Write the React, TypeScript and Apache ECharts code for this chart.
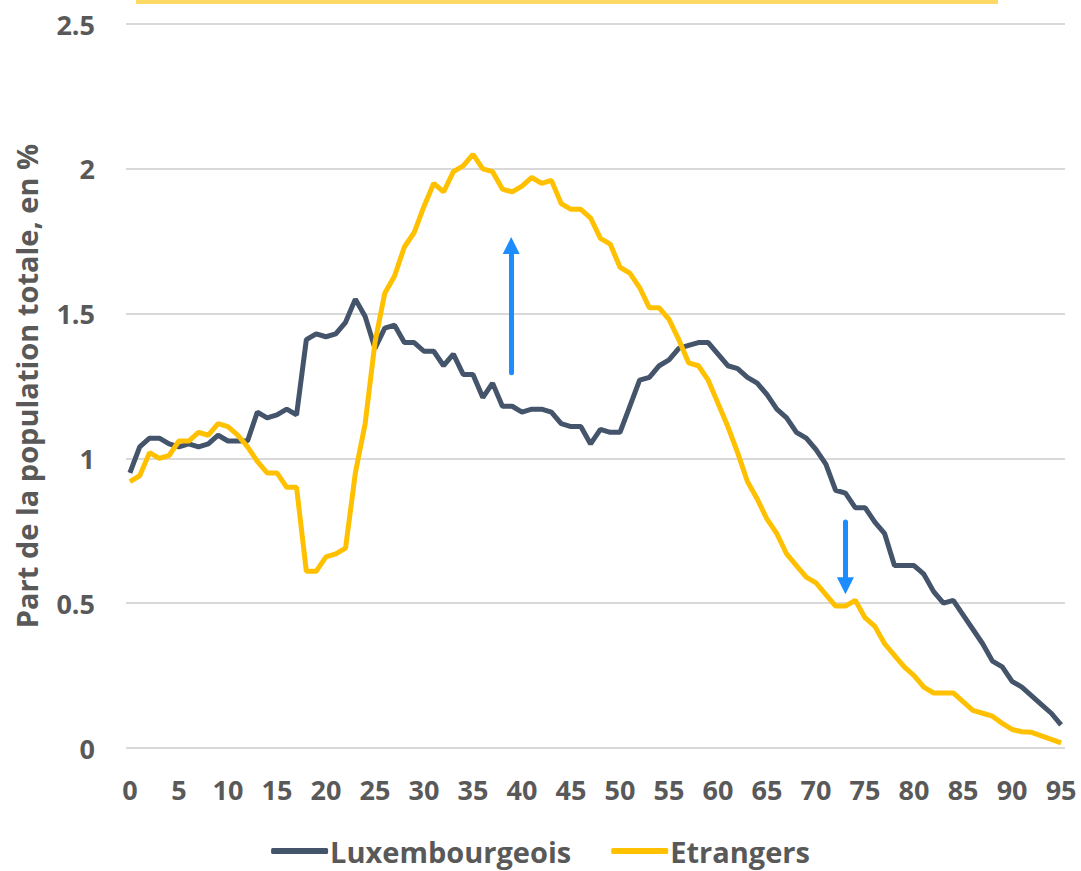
import React, { useEffect, useRef } from "react";
import * as echarts from "echarts";

const ages: number[] = Array.from({ length: 96 }, (_, i) => i);
const xTickLabels: number[] = [0, 5, 10, 15, 20, 25, 30, 35, 40, 45, 50, 55, 60, 65, 70, 75, 80, 85, 90, 95];

const luxembourgeois: number[] = [
  0.95, 1.04, 1.07, 1.07, 1.05, 1.04, 1.05, 1.04, 1.05, 1.08,
  1.06, 1.06, 1.06, 1.16, 1.14, 1.15, 1.17, 1.15, 1.41, 1.43,
  1.42, 1.43, 1.47, 1.55, 1.49, 1.38, 1.45, 1.46, 1.40, 1.40,
  1.37, 1.37, 1.32, 1.36, 1.29, 1.29, 1.21, 1.26, 1.18, 1.18,
  1.16, 1.17, 1.17, 1.16, 1.12, 1.11, 1.11, 1.05, 1.10, 1.09,
  1.09, 1.18, 1.27, 1.28, 1.32, 1.34, 1.38, 1.39, 1.40, 1.40,
  1.36, 1.32, 1.31, 1.28, 1.26, 1.22, 1.17, 1.14, 1.09, 1.07,
  1.03, 0.98, 0.89, 0.88, 0.83, 0.83, 0.78, 0.74, 0.63, 0.63,
  0.63, 0.60, 0.54, 0.50, 0.51, 0.46, 0.41, 0.36, 0.30, 0.28,
  0.23, 0.21, 0.18, 0.15, 0.12, 0.08,
];

const etrangers: number[] = [
  0.92, 0.94, 1.02, 1.00, 1.01, 1.06, 1.06, 1.09, 1.08, 1.12,
  1.11, 1.08, 1.04, 0.99, 0.95, 0.95, 0.90, 0.90, 0.61, 0.61,
  0.66, 0.67, 0.69, 0.95, 1.12, 1.40, 1.57, 1.63, 1.73, 1.78,
  1.87, 1.95, 1.92, 1.99, 2.01, 2.05, 2.00, 1.99, 1.93, 1.92,
  1.94, 1.97, 1.95, 1.96, 1.88, 1.86, 1.86, 1.83, 1.76, 1.74,
  1.66, 1.64, 1.59, 1.52, 1.52, 1.48, 1.41, 1.33, 1.32, 1.27,
  1.19, 1.11, 1.02, 0.92, 0.86, 0.79, 0.74, 0.67, 0.63, 0.59,
  0.57, 0.53, 0.49, 0.49, 0.51, 0.45, 0.42, 0.36, 0.32, 0.28,
  0.25, 0.21, 0.19, 0.19, 0.19, 0.16, 0.13, 0.12, 0.11, 0.085,
  0.064, 0.056, 0.054, 0.042, 0.03, 0.018,
];

// Annotation arrows: [age, from value, to value]
const arrowUp: number[] = [38.9, 1.296, 1.735];
const arrowDown: number[] = [73, 0.78, 0.56];

const seriesNames: string[] = ["Luxembourgeois", "Etrangers"];
const yAxisTitle = "Part de la population totale, en %";

const FONT = "'Open Sans', 'Noto Sans', sans-serif";
const TEXT = "#595959";

export default function App() {
  const ref = useRef<HTMLDivElement>(null);
  useEffect(() => {
    document.body.style.margin = "0";
    if (!ref.current) return;
    const chart = echarts.init(ref.current, undefined, { renderer: "svg" });
    const pairs = (vals: number[]) => vals.map((v, i) => [ages[i], v]);
    chart.setOption({
      animation: false,
      backgroundColor: "#ffffff",
      textStyle: { fontFamily: FONT },
      grid: { left: 126, right: 16, top: 24, bottom: 123, containLabel: false },
      graphic: [
        {
          type: "rect",
          left: 136,
          top: 0,
          z: 100,
          shape: { x: 0, y: 0, width: 862, height: 4 },
          style: { fill: "#FFD966" },
          silent: true,
        },
      ],
      legend: {
        data: seriesNames,
        left: "center",
        top: 836,
        padding: 0,
        icon: "roundRect",
        itemWidth: 57,
        itemHeight: 6,
        itemGap: 40,
        textStyle: {
          fontFamily: FONT,
          fontSize: 29,
          lineHeight: 30,
          fontWeight: "bold",
          color: TEXT,
          padding: [0, 0, 0, -3],
        },
      },
      xAxis: {
        type: "value",
        min: -0.4,
        max: 95.4,
        axisLine: { show: false },
        axisTick: { show: false },
        splitLine: { show: false },
        axisLabel: {
          customValues: xTickLabels,
          margin: 28,
          fontFamily: FONT,
          fontSize: 27,
          fontWeight: "bold",
          color: TEXT,
        },
      },
      yAxis: {
        type: "value",
        min: 0,
        max: 2.5,
        interval: 0.5,
        name: yAxisTitle,
        nameLocation: "middle",
        nameRotate: 90,
        nameGap: 85,
        nameTextStyle: { fontFamily: FONT, fontSize: 29, fontWeight: "bold", color: TEXT },
        axisLine: { show: false },
        axisTick: { show: false },
        splitLine: { lineStyle: { color: "#D9D9D9", width: 2 } },
        axisLabel: {
          margin: 31,
          fontFamily: FONT,
          fontSize: 27,
          fontWeight: "bold",
          color: TEXT,
        },
      },
      series: [
        {
          name: seriesNames[0],
          type: "line",
          data: pairs(luxembourgeois),
          showSymbol: false,
          symbol: "none",
          lineStyle: { color: "#44546A", width: 5 },
          itemStyle: { color: "#44546A" },
          z: 2,
        },
        {
          name: seriesNames[1],
          type: "line",
          data: pairs(etrangers),
          showSymbol: false,
          symbol: "none",
          lineStyle: { color: "#FFC000", width: 5 },
          itemStyle: { color: "#FFC000" },
          z: 3,
          markLine: {
            silent: true,
            symbol: ["none", "triangle"],
            symbolSize: [17, 17],
            label: { show: false },
            lineStyle: { color: "#1C8CFF", width: 5, type: "solid", cap: "round", opacity: 1 },
            itemStyle: { color: "#1C8CFF" },
            emphasis: { disabled: true },
            data: [
              [
                { coord: [arrowUp[0], arrowUp[1]] },
                { coord: [arrowUp[0], arrowUp[2]] },
              ],
              [
                { coord: [arrowDown[0], arrowDown[1]] },
                { coord: [arrowDown[0], arrowDown[2]] },
              ],
            ],
          },
        },
      ],
    });
    return () => chart.dispose();
  }, []);
  return (
    <div
      ref={ref}
      style={{ position: "fixed", left: 0, top: 0, width: 1081, height: 871, background: "#fff" }}
    />
  );
}
